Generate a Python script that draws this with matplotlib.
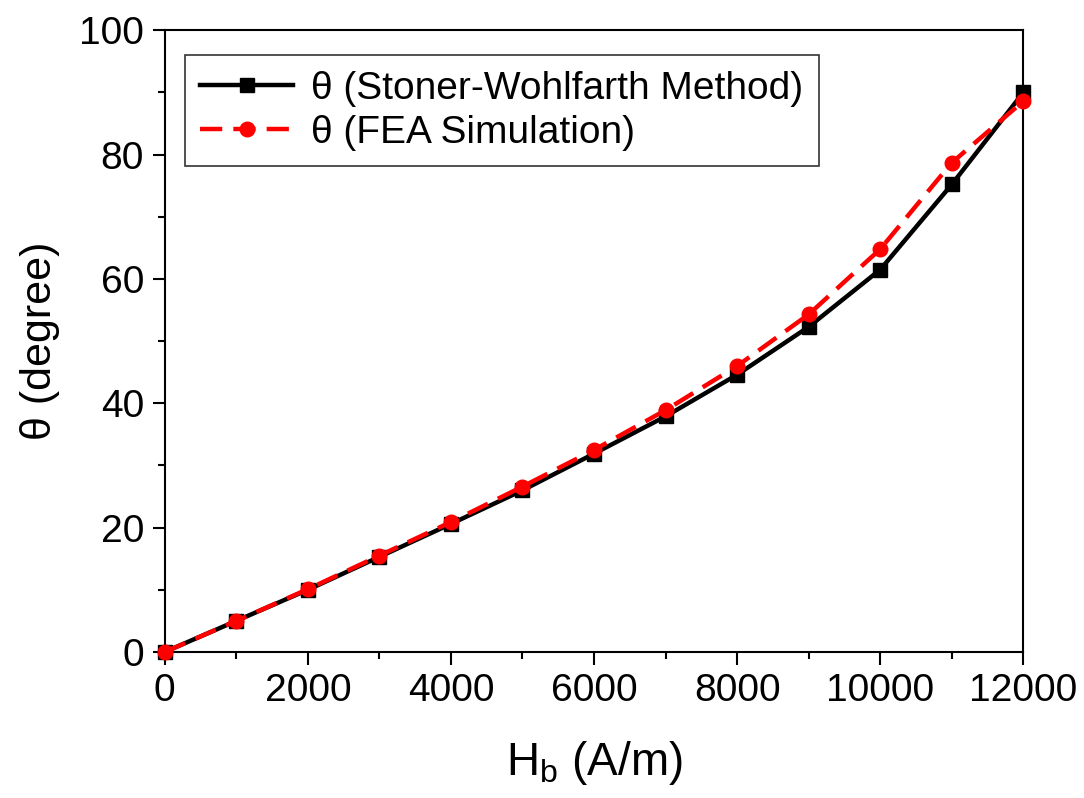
import matplotlib
matplotlib.use('Agg')
import matplotlib.pyplot as plt
from matplotlib.ticker import MultipleLocator

plt.rcParams['font.family'] = ['Liberation Sans', 'DejaVu Sans']
plt.rcParams['mathtext.fontset'] = 'custom'
plt.rcParams['mathtext.rm'] = 'Liberation Sans'
plt.rcParams['mathtext.it'] = 'Liberation Sans'

# field values (A/m)
hb = [0, 1000, 2000, 3000, 4000, 5000, 6000, 7000, 8000, 9000, 10000, 11000, 12000]
# angle from Stoner-Wohlfarth model (degree)
theta_sw = [0, 5.0, 10.0, 15.3, 20.6, 26.0, 31.9, 37.9, 44.6, 52.3, 61.5, 75.2, 90.0]
# angle from FEA simulation (degree)
theta_fea = [0, 5.0, 10.1, 15.5, 20.9, 26.6, 32.5, 38.9, 46.0, 54.3, 64.8, 78.7, 88.6]

fig = plt.figure(figsize=(10.84, 7.98), dpi=100)
ax = fig.add_axes([0.152, 0.183, 0.792, 0.779])

ax.plot(hb, theta_sw, color='black', linewidth=3.2, marker='s', markersize=9.5,
        label='θ (Stoner-Wohlfarth Method)', clip_on=False, zorder=3)
ax.plot(hb, theta_fea, color='red', linewidth=3.2, linestyle=(0, (5, 2.5)), marker='o',
        markersize=10.5, label='θ (FEA Simulation)', clip_on=False, zorder=4)

ax.set_xlim(0, 12000)
ax.set_ylim(0, 100)
ax.xaxis.set_major_locator(MultipleLocator(2000))
ax.xaxis.set_minor_locator(MultipleLocator(1000))
ax.yaxis.set_major_locator(MultipleLocator(20))
ax.yaxis.set_minor_locator(MultipleLocator(10))
ax.tick_params(which='major', direction='out', length=9, width=1.5, labelsize=28, pad=6)
ax.tick_params(which='minor', direction='out', length=5, width=1.5)
for s in ax.spines.values():
    s.set_linewidth(1.5)

ax.set_xlabel('H$_\\mathrm{b}$ (A/m)', fontsize=33, labelpad=22)
ax.set_ylabel('θ (degree)', fontsize=31, labelpad=14)

leg = ax.legend(loc='upper left', bbox_to_anchor=(0.023, 0.96), fontsize=28,
                frameon=True, fancybox=False, edgecolor='black', handlelength=2.4,
                borderpad=0.4, labelspacing=0.2, handletextpad=0.45, borderaxespad=0)
leg.get_frame().set_linewidth(1.2)

fig.savefig('out.png', dpi=100)
